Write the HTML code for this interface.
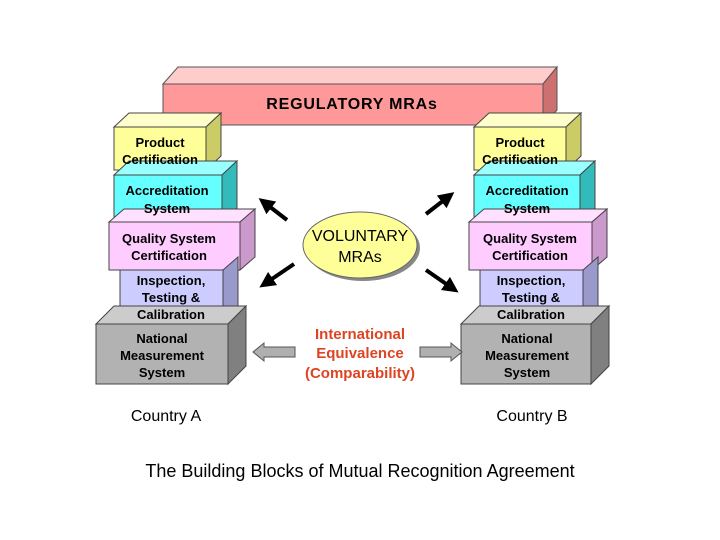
<!DOCTYPE html>
<html><head><style>body{margin:0;background:#fff}svg{display:block}text{font-family:"Liberation Sans",Arial,sans-serif}</style></head>
<body>
<svg width="720" height="540" viewBox="0 0 720 540" xmlns="http://www.w3.org/2000/svg">
<defs>
<marker id="ah" markerWidth="4" markerHeight="4" refX="2" refY="2" orient="auto" markerUnits="strokeWidth"><path d="M0,0 L4,2 L0,4 Z" fill="#000"/></marker>
</defs>
<g stroke="#555" stroke-width="1">
<polygon points="163,84 178,67 557,67 543,84" fill="#ffcccc"/>
<polygon points="543,84 557,67 557,110 543,125" fill="#cc7070"/>
<rect x="163" y="84" width="380" height="41" fill="#ff9999"/>
</g>
<g stroke="#444" stroke-width="1">
<polygon points="114,127 129,113 221,113 206,127" fill="#ffffcc"/><polygon points="206,127 221,113 221,156 206,170" fill="#cccc66"/><rect x="114" y="127" width="92" height="43" fill="#ffff99"/>
<polygon points="114,175 129,161 237,161 222,175" fill="#99ffff"/><polygon points="222,175 237,161 237,208 222,222" fill="#33bbbb"/><rect x="114" y="175" width="108" height="47" fill="#66ffff"/>
<polygon points="109,222 124,209 255,209 240,222" fill="#ffe0ff"/><polygon points="240,222 255,209 255,257 240,270" fill="#cc99cc"/><rect x="109" y="222" width="131" height="48" fill="#ffccff"/>
<polygon points="223,270 238,257 238,310 223,324" fill="#9999cc"/><rect x="120" y="270" width="103" height="54" fill="#ccccff"/>
<polygon points="96,324 114,306 246,306 228,324" fill="#cccccc"/><polygon points="228,324 246,306 246,366 228,384" fill="#808080"/><rect x="96" y="324" width="132" height="60" fill="#b2b2b2"/>
<polygon points="474,127 489,113 581,113 566,127" fill="#ffffcc"/><polygon points="566,127 581,113 581,156 566,170" fill="#cccc66"/><rect x="474" y="127" width="92" height="43" fill="#ffff99"/>
<polygon points="474,175 489,161 595,161 580,175" fill="#99ffff"/><polygon points="580,175 595,161 595,208 580,222" fill="#33bbbb"/><rect x="474" y="175" width="106" height="47" fill="#66ffff"/>
<polygon points="469,222 484,209 607,209 592,222" fill="#ffe0ff"/><polygon points="592,222 607,209 607,257 592,270" fill="#cc99cc"/><rect x="469" y="222" width="123" height="48" fill="#ffccff"/>
<polygon points="583,270 598,257 598,310 583,324" fill="#9999cc"/><rect x="480" y="270" width="103" height="54" fill="#ccccff"/>
<polygon points="461,324 479,306 609,306 591,324" fill="#cccccc"/><polygon points="591,324 609,306 609,366 591,384" fill="#808080"/><rect x="461" y="324" width="130" height="60" fill="#b2b2b2"/>
</g>
<text x="352" y="109" font-size="16" font-weight="bold" text-anchor="middle" letter-spacing="0.8">REGULATORY MRAs</text>
<g font-size="13" font-weight="bold" text-anchor="middle" fill="#000">
<text x="160" y="147">Product</text><text x="160" y="164">Certification</text>
<text x="167" y="195">Accreditation</text><text x="167" y="213">System</text>
<text x="169" y="243">Quality System</text><text x="169" y="260">Certification</text>
<text x="171" y="285">Inspection,</text><text x="171" y="302">Testing &amp;</text><text x="171" y="319">Calibration</text>
<text x="162" y="343">National</text><text x="162" y="360">Measurement</text><text x="162" y="377">System</text>
<text x="520" y="147">Product</text><text x="520" y="164">Certification</text>
<text x="527" y="195">Accreditation</text><text x="527" y="213">System</text>
<text x="530" y="243">Quality System</text><text x="530" y="260">Certification</text>
<text x="531" y="285">Inspection,</text><text x="531" y="302">Testing &amp;</text><text x="531" y="319">Calibration</text>
<text x="527" y="343">National</text><text x="527" y="360">Measurement</text><text x="527" y="377">System</text>
</g>
<ellipse cx="363" cy="248" rx="57" ry="33" fill="#888"/>
<ellipse cx="360" cy="245" rx="57" ry="33" fill="#ffff99" stroke="#666"/>
<text x="360" y="241" font-size="16" text-anchor="middle">VOLUNTARY</text>
<text x="360" y="262" font-size="16" text-anchor="middle">MRAs</text>
<g stroke="#000" stroke-width="4" marker-end="url(#ah)">
<line x1="287" y1="220" x2="265" y2="203"/>
<line x1="294" y1="264" x2="266" y2="283"/>
<line x1="426" y1="214" x2="448" y2="197"/>
<line x1="426" y1="270" x2="452" y2="288"/>
</g>
<g fill="#b0b0b0" stroke="#555">
<polygon points="295,347 264,347 264,343 253,352 264,361 264,357 295,357"/>
<polygon points="420,347 451,347 451,343 462,352 451,361 451,357 420,357"/>
</g>
<g font-size="15" font-weight="bold" text-anchor="middle" fill="#dd4422">
<text x="360" y="339">International</text><text x="360" y="358">Equivalence</text><text x="360" y="378">(Comparability)</text>
</g>
<text x="166" y="421" font-size="16" text-anchor="middle">Country A</text>
<text x="532" y="421" font-size="16" text-anchor="middle">Country B</text>
<text x="360" y="477" font-size="18" text-anchor="middle">The Building Blocks of Mutual Recognition Agreement</text>
</svg>
</body></html>
